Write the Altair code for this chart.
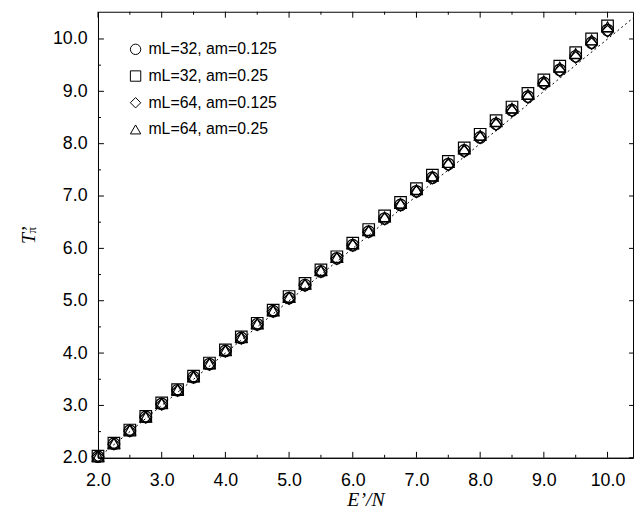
import altair as alt
import pandas as pd

energy = [2.0, 2.25, 2.5, 2.75, 3.0, 3.25, 3.5, 3.75, 4.0, 4.25, 4.5, 4.75,
          5.0, 5.25, 5.5, 5.75, 6.0, 6.25, 6.5, 6.75, 7.0, 7.25, 7.5, 7.75,
          8.0, 8.25, 8.5, 8.75, 9.0, 9.25, 9.5, 9.75, 10.0]

t_32_0125 = [2.02, 2.27, 2.52, 2.78, 3.03, 3.29, 3.54, 3.79, 4.04, 4.29, 4.55, 4.80,
             5.05, 5.30, 5.56, 5.81, 6.06, 6.32, 6.57, 6.83, 7.09, 7.35, 7.61, 7.87,
             8.12, 8.38, 8.64, 8.90, 9.16, 9.41, 9.67, 9.93, 10.17]
t_32_025 = [2.03, 2.28, 2.53, 2.79, 3.05, 3.30, 3.56, 3.81, 4.06, 4.31, 4.57, 4.82,
            5.08, 5.33, 5.59, 5.84, 6.10, 6.36, 6.62, 6.88, 7.14, 7.40, 7.66, 7.92,
            8.18, 8.44, 8.70, 8.96, 9.22, 9.48, 9.74, 10.00, 10.25]
t_64_0125 = [2.02, 2.26, 2.51, 2.77, 3.02, 3.28, 3.53, 3.78, 4.03, 4.28, 4.54, 4.79,
             5.04, 5.29, 5.55, 5.80, 6.05, 6.31, 6.56, 6.82, 7.08, 7.34, 7.59, 7.85,
             8.11, 8.36, 8.62, 8.88, 9.14, 9.39, 9.65, 9.91, 10.15]
t_64_025 = [2.03, 2.28, 2.53, 2.78, 3.04, 3.30, 3.55, 3.80, 4.05, 4.30, 4.56, 4.81,
            5.07, 5.32, 5.58, 5.83, 6.09, 6.34, 6.60, 6.86, 7.12, 7.38, 7.64, 7.90,
            8.16, 8.42, 8.68, 8.94, 9.20, 9.46, 9.72, 9.98, 10.23]

series_labels = ["mL=32, am=0.125", "mL=32, am=0.25", "mL=64, am=0.125", "mL=64, am=0.25"]
series_shapes = ["circle", "square", "diamond", "triangle-up"]

ref_x = [2.0, 10.4]
ref_y = [2.0, 10.4]

x_major = [2.0, 3.0, 4.0, 5.0, 6.0, 7.0, 8.0, 9.0, 10.0]
x_minor = [2.5, 3.5, 4.5, 5.5, 6.5, 7.5, 8.5, 9.5]
y_major = [2.0, 3.0, 4.0, 5.0, 6.0, 7.0, 8.0, 9.0, 10.0]
y_minor = [2.5, 3.5, 4.5, 5.5, 6.5, 7.5, 8.5, 9.5]

x_domain = [2.0, 10.4]
y_domain = [2.0, 10.52]

W, H = 541, 451

rows = []
for label, vals in zip(series_labels, [t_32_0125, t_32_025, t_64_0125, t_64_025]):
    for e, t in zip(energy, vals):
        rows.append({"E": e, "T": t, "series": label})
pts = pd.DataFrame(rows)
ref = pd.DataFrame({"E": ref_x, "T": ref_y})

xs = alt.Scale(domain=x_domain, nice=False, zero=False)
ys = alt.Scale(domain=y_domain, nice=False, zero=False)

points = alt.Chart(pts).mark_point(filled=False, size=136, strokeWidth=1.2, color="black", opacity=1).encode(
    x=alt.X("E:Q", scale=xs, axis=alt.Axis(
        orient="bottom", values=x_major, format=".1f", ticks=False,
        labelPadding=14, labelFlush=False, labelOverlap=False, title="E’/N", titlePadding=0)),
    y=alt.Y("T:Q", scale=ys, axis=alt.Axis(
        orient="left", values=y_major, format=".1f", ticks=False,
        labelPadding=11, labelOverlap=False, labelFlush=False, title="T’", titlePadding=14)),
    shape=alt.Shape("series:N", scale=alt.Scale(domain=series_labels, range=series_shapes),
                    legend=alt.Legend(orient="none", legendX=30, legendY=30, title=None,
                                      labelFontSize=16, labelFont="Liberation Sans",
                                      labelColor="black", symbolSize=110, symbolStrokeWidth=1,
                                      symbolStrokeColor="black", rowPadding=11,
                                      labelOffset=5, padding=0)),
)

line = alt.Chart(ref).mark_line(strokeDash=[2, 3], strokeWidth=1, color="black").encode(
    x=alt.X("E:Q", scale=xs, axis=None),
    y=alt.Y("T:Q", scale=ys, axis=None),
)


def xtick(vals, y0, y1):
    return alt.Chart(pd.DataFrame({"v": vals})).mark_rule(color="black", strokeWidth=1).encode(
        x=alt.X("v:Q", scale=xs, axis=None), y=alt.value(y0), y2=alt.value(y1))


def ytick(vals, x0, x1):
    return alt.Chart(pd.DataFrame({"v": vals})).mark_rule(color="black", strokeWidth=1).encode(
        y=alt.Y("v:Q", scale=ys, axis=None), x=alt.value(x0), x2=alt.value(x1))


ticks = [
    xtick(x_major, H, H - 6), xtick(x_minor, H, H - 3),
    xtick(x_major, 0, 6), xtick(x_minor, 0, 3),
    ytick(y_major, 0, 6), ytick(y_minor, 0, 3),
    ytick(y_major, W, W - 4),
]

pi = alt.Chart(pd.DataFrame({"t": ["π"]})).mark_text(
    text="π", font="Liberation Serif", fontSize=13, angle=270, color="black"
).encode(x=alt.value(-67), y=alt.value(221))

chart = alt.layer(line, *ticks, points, pi).resolve_axis(x="independent", y="independent").properties(
    width=W, height=H,
    autosize=alt.AutoSizeParams(type="none"),
    padding={"left": 91, "top": 1, "right": 2, "bottom": 49},
).configure_view(stroke="black", strokeWidth=1).configure_axis(
    grid=False, labelFont="Liberation Sans", labelFontSize=18, labelColor="black",
    domainColor="black", domainWidth=1,
    titleFont="Liberation Serif", titleFontStyle="italic", titleFontWeight="normal",
    titleFontSize=20, titleColor="black",
)

chart.save("out.html", embed_options={"renderer": "svg", "actions": False})
